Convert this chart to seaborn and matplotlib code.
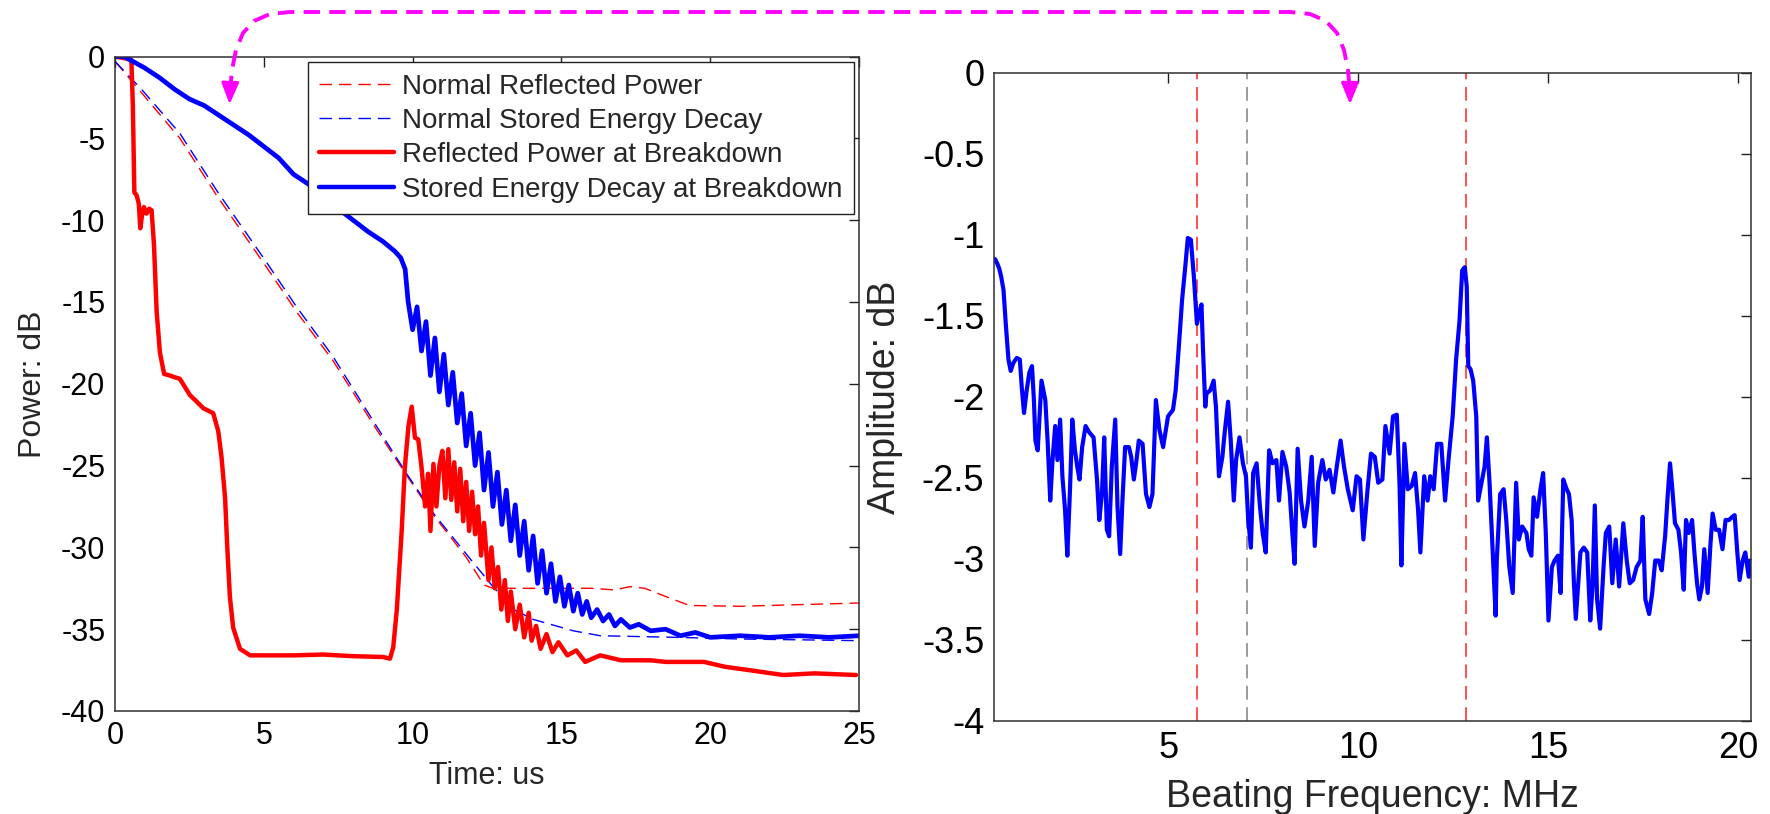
import numpy as np
import pandas as pd
import matplotlib
matplotlib.use("Agg")
import matplotlib.pyplot as plt
import seaborn as sns
from matplotlib.lines import Line2D
from matplotlib.patches import FancyArrowPatch

# ---------------- data: left panel (time in us, power in dB) ----------------
t_norm_refl = [0, 0.84, 2.18, 3.42, 5.1, 6.1, 7.33, 8.79, 9.8, 10.69, 11.8, 12.4, 12.7,
               14.0, 16.0, 16.8, 17.3, 17.8, 18.5, 19.3, 21.0, 23.0, 25.0]
p_norm_refl = [-0.3, -2.1, -5.0, -8.5, -12.9, -15.6, -18.6, -22.8, -25.6, -28.0, -30.6, -32.3, -32.5,
               -32.5, -32.5, -32.6, -32.4, -32.5, -33.0, -33.55, -33.6, -33.5, -33.4]

t_norm_stored = [0, 0.84, 2.18, 3.42, 5.1, 6.1, 7.33, 8.79, 9.8, 10.69, 11.8, 12.7, 13.4,
                 14.05, 15.4, 16.3, 18.9, 21.0, 25.0]
p_norm_stored = [-0.3, -1.9, -4.7, -8.2, -12.6, -15.3, -18.35, -22.6, -25.5, -27.9, -30.4, -32.4, -33.8,
                 -34.4, -35.1, -35.4, -35.5, -35.6, -35.7]

t_bd_refl = [0, 0.3, 0.55, 0.6, 0.65, 0.73, 0.8, 0.85, 0.9, 0.97, 1.06, 1.15, 1.23, 1.31, 1.4, 1.51,
             1.65, 1.85, 2.0, 2.18, 2.35, 2.52, 2.75, 2.97, 3.3, 3.47, 3.58, 3.7, 3.77, 3.86, 3.97,
             4.2, 4.54, 5.0, 6.0, 7.0, 8.0, 9.0, 9.24, 9.35, 9.47, 9.63, 9.74, 9.86, 9.97, 10.08,
             10.19, 10.3, 10.42, 10.52, 10.6, 10.7, 10.8, 10.9, 11.0, 11.1, 11.2, 11.3, 11.4, 11.5,
             11.6, 11.7, 11.8, 11.9, 12.0, 12.1, 12.2, 12.3, 12.4, 12.55, 12.65, 12.76, 12.87, 12.98,
             13.1, 13.2, 13.3, 13.45, 13.6, 13.75, 13.9, 14.0, 14.15, 14.3, 14.5, 14.7, 14.9, 15.2,
             15.5, 15.8, 16.3, 17.0, 18.0, 18.5, 19.8, 20.5, 21.3, 22.45, 23.5, 24.9]
p_bd_refl = [0, -0.1, -0.2, -3.0, -8.3, -8.5, -9.0, -10.5, -9.8, -9.2, -9.6, -9.3, -9.4, -11.5, -15.6, -18.1,
             -19.4, -19.5, -19.6, -19.7, -20.2, -20.7, -21.1, -21.5, -21.8, -22.9, -24.5, -27.0, -29.9, -33.0, -34.9,
             -36.2, -36.6, -36.6, -36.6, -36.55, -36.65, -36.7, -36.8, -36.1, -33.8, -29.1, -25.1, -22.6, -21.4, -23.3,
             -23.4, -25.1, -27.5, -25.5, -29.0, -24.9, -27.5, -25.0, -24.1, -27.0, -24.0, -27.1, -24.8, -27.8,
             -25.2, -28.4, -26.0, -29.0, -26.6, -29.2, -27.5, -30.5, -28.5, -32.0, -30.0, -32.5, -31.2, -33.8,
             -32.0, -34.5, -32.7, -35.0, -33.5, -35.5, -34.0, -35.7, -34.8, -36.2, -35.3, -36.4, -35.8, -36.6,
             -36.3, -37.0, -36.6, -36.9, -36.9, -37.0, -37.0, -37.3, -37.5, -37.8, -37.7, -37.8]

t_bd_stored = [0, 0.3, 0.5, 1.0, 1.5, 2.0, 2.5, 3.0, 3.5, 4.0, 4.5, 5.0, 5.5, 6.0, 6.5, 7.0, 7.5, 8.0,
               8.5, 9.0, 9.4, 9.6, 9.75, 9.85, 10.0, 10.15, 10.3, 10.45, 10.6, 10.75, 10.9, 11.05, 11.2,
               11.35, 11.5, 11.65, 11.8, 11.95, 12.1, 12.25, 12.4, 12.55, 12.7, 12.85, 13.0, 13.15, 13.3,
               13.45, 13.6, 13.75, 13.9, 14.05, 14.2, 14.35, 14.5, 14.65, 14.8, 14.95, 15.1, 15.25, 15.4,
               15.55, 15.7, 15.85, 16.0, 16.2, 16.4, 16.6, 16.8, 17.0, 17.3, 17.6, 18.0, 18.5, 19.0, 19.5,
               20.0, 21.0, 22.0, 23.0, 24.0, 25.0]
p_bd_stored = [0, 0, -0.2, -0.7, -1.3, -2.0, -2.6, -3.0, -3.6, -4.2, -4.8, -5.5, -6.2, -7.2, -7.8, -8.5, -9.3, -10.0,
               -10.7, -11.3, -11.9, -12.3, -13.0, -15.0, -16.7, -15.3, -18.0, -16.2, -19.5, -17.2, -20.5, -18.2, -21.3,
               -19.3, -22.4, -20.6, -23.8, -21.8, -25.0, -23.0, -26.5, -24.2, -27.5, -25.4, -28.6, -26.5, -29.6,
               -27.4, -30.5, -28.4, -31.4, -29.3, -32.2, -30.2, -32.8, -31.0, -33.3, -31.8, -33.6, -32.3, -33.9,
               -32.8, -34.1, -33.3, -34.3, -33.8, -34.5, -34.1, -34.8, -34.4, -34.9, -34.7, -35.1, -35.0, -35.4, -35.2,
               -35.5, -35.4, -35.5, -35.4, -35.5, -35.4]

series_labels = ["Normal Reflected Power", "Normal Stored Energy Decay",
                 "Reflected Power at Breakdown", "Stored Energy Decay at Breakdown"]

# ---------------- data: right panel (beating frequency spectrum) ----------------
freq_mhz = [0.44, 0.50, 0.55, 0.60, 0.66, 0.72, 0.79, 0.85, 0.92, 1.01, 1.09, 1.14, 1.20, 1.27, 1.34, 1.41,
            1.46, 1.50, 1.56, 1.66, 1.76, 1.82, 1.89, 1.95, 2.02, 2.08, 2.15, 2.21, 2.28, 2.34, 2.41, 2.47,
            2.54, 2.60, 2.66, 2.73, 2.82, 2.92, 3.03, 3.12, 3.18, 3.25, 3.31, 3.38, 3.44, 3.51, 3.60, 3.66,
            3.73, 3.79, 3.86, 3.96, 4.02, 4.09, 4.15, 4.22, 4.32, 4.41, 4.50, 4.58, 4.67, 4.76, 4.86, 4.99,
            5.12, 5.19, 5.28, 5.36, 5.45, 5.51, 5.59, 5.67, 5.75, 5.81, 5.87, 5.91, 5.97, 6.00, 6.10, 6.19,
            6.25, 6.33, 6.42, 6.48, 6.57, 6.64, 6.72, 6.78, 6.87, 6.96, 7.04, 7.10, 7.17, 7.23, 7.32, 7.41,
            7.48, 7.56, 7.65, 7.74, 7.84, 7.91, 8.00, 8.10, 8.19, 8.26, 8.32, 8.40, 8.49, 8.58, 8.68, 8.77,
            8.85, 8.94, 9.05, 9.14, 9.24, 9.34, 9.43, 9.53, 9.62, 9.72, 9.85, 9.95, 10.04, 10.13, 10.24,
            10.33, 10.43, 10.52, 10.63, 10.71, 10.82, 10.91, 11.01, 11.08, 11.13, 11.21, 11.30, 11.40,
            11.49, 11.57, 11.63, 11.73, 11.82, 11.89, 11.98, 12.07, 12.18, 12.28, 12.37, 12.48, 12.57,
            12.66, 12.73, 12.80, 12.85, 12.89, 12.95, 13.02, 13.10, 13.15, 13.24, 13.32, 13.38, 13.45,
            13.51, 13.58, 13.61, 13.64, 13.73, 13.82, 13.89, 13.97, 14.06, 14.15, 14.22, 14.31, 14.42,
            14.48, 14.55, 14.61, 14.70, 14.79, 14.86, 14.93, 15.00, 15.09, 15.16, 15.25, 15.32, 15.39,
            15.48, 15.54, 15.61, 15.67, 15.72, 15.84, 15.93, 16.02, 16.10, 16.16, 16.22, 16.28, 16.36,
            16.45, 16.51, 16.60, 16.68, 16.77, 16.86, 16.97, 17.06, 17.14, 17.23, 17.32, 17.42, 17.48,
            17.55, 17.65, 17.73, 17.81, 17.90, 17.98, 18.07, 18.14, 18.20, 18.26, 18.33, 18.42, 18.49,
            18.56, 18.62, 18.69, 18.78, 18.84, 18.91, 18.97, 19.04, 19.10, 19.19, 19.26, 19.32, 19.40,
            19.49, 19.58, 19.66, 19.75, 19.84, 19.90, 19.97, 20.03, 20.11, 20.18, 20.27, 20.32]
amp_db = [-1.15, -1.18, -1.21, -1.26, -1.34, -1.55, -1.77, -1.84, -1.79, -1.76, -1.77, -1.94, -2.10, -1.96, -1.85, -1.81,
          -2.02, -2.27, -2.33, -1.90, -2.02, -2.27, -2.64, -2.39, -2.18, -2.39, -2.14, -2.49, -2.70, -2.98, -2.57, -2.14,
          -2.33, -2.43, -2.51, -2.31, -2.18, -2.22, -2.25, -2.51, -2.76, -2.60, -2.25, -2.82, -2.86, -2.43, -2.14, -2.68,
          -2.97, -2.64, -2.31, -2.31, -2.37, -2.51, -2.41, -2.27, -2.29, -2.60, -2.68, -2.60, -2.02, -2.20, -2.31, -2.12,
          -2.08, -1.96, -1.67, -1.40, -1.18, -1.02, -1.03, -1.26, -1.55, -1.48, -1.43, -1.71, -2.06, -1.98, -1.96, -1.90,
          -2.06, -2.49, -2.37, -2.22, -2.03, -2.27, -2.64, -2.39, -2.25, -2.41, -2.49, -2.76, -2.93, -2.47, -2.41, -2.68,
          -2.84, -2.96, -2.33, -2.41, -2.39, -2.64, -2.34, -2.43, -2.59, -2.84, -3.03, -2.32, -2.64, -2.80, -2.64, -2.37,
          -2.92, -2.53, -2.39, -2.51, -2.45, -2.59, -2.43, -2.27, -2.43, -2.57, -2.70, -2.49, -2.51, -2.88, -2.57,
          -2.35, -2.37, -2.53, -2.51, -2.18, -2.35, -2.12, -2.11, -2.53, -3.04, -2.29, -2.57, -2.55,
          -2.47, -2.70, -2.96, -2.49, -2.64, -2.49, -2.57, -2.29, -2.29, -2.64, -2.39, -2.12, -1.77,
          -1.53, -1.22, -1.20, -1.32, -1.81, -1.83, -1.90, -2.12, -2.64, -2.53, -2.43, -2.25, -2.53,
          -2.84, -3.21, -3.35, -3.01, -2.60, -2.57, -2.76, -3.05, -3.21, -2.53, -2.88, -2.80, -2.84,
          -2.94, -2.98, -2.62, -2.74, -2.57, -2.47, -2.84, -3.38, -3.05, -3.01, -2.98, -3.21, -2.51,
          -2.57, -2.60, -2.76, -3.15, -3.37, -2.96, -2.93, -2.96, -3.38, -3.17, -2.67, -3.25, -3.43,
          -3.05, -2.84, -2.80, -3.15, -2.88, -3.17, -2.78, -3.01, -3.15, -3.13, -3.05, -3.01, -2.74,
          -3.25, -3.34, -3.21, -3.01, -3.01, -3.07, -2.86, -2.60, -2.41, -2.57, -2.78, -2.82, -2.96,
          -3.19, -2.76, -2.84, -2.76, -2.96, -3.15, -3.25, -3.17, -2.94, -3.21, -2.92, -2.72, -2.82,
          -2.82, -2.94, -2.76, -2.76, -2.74, -2.73, -2.96, -3.13, -3.01, -2.96, -3.11, -3.01]

marker_freqs = [5.75, 7.08, 12.82]
marker_colors = ["#FF2020", "#808080", "#FF2020"]

# ---------------- style ----------------
sns.set_style("white")
plt.rcParams["font.family"] = ["Liberation Sans", "DejaVu Sans"]
plt.rcParams["axes.unicode_minus"] = False

W, H = 1770, 814
fig = plt.figure(figsize=(W / 100, H / 100), dpi=100)
fig.patch.set_facecolor("white")

ax1 = fig.add_axes([115 / W, 1 - 711 / H, 744 / W, 654.5 / H])
ax2 = fig.add_axes([994 / W, 1 - 721 / H, 757 / W, 648.3 / H])

RED, BLUE = "#FF0000", "#0000FF"

# left panel lines
sns.lineplot(x=t_norm_refl, y=p_norm_refl, ax=ax1, color=RED, lw=1.0, ls="--",
             label=series_labels[0], estimator=None, sort=False)
ax1.lines[-1].set_dashes((9, 5))
sns.lineplot(x=t_norm_stored, y=p_norm_stored, ax=ax1, color=BLUE, lw=1.0, ls="--",
             label=series_labels[1], estimator=None, sort=False)
ax1.lines[-1].set_dashes((9, 5))
sns.lineplot(x=t_bd_refl, y=p_bd_refl, ax=ax1, color=RED, lw=3.2,
             label=series_labels[2], estimator=None, sort=False)
sns.lineplot(x=t_bd_stored, y=p_bd_stored, ax=ax1, color=BLUE, lw=3.4,
             label=series_labels[3], estimator=None, sort=False)

ax1.set_xlim(0, 25)
ax1.set_ylim(-40, 0)
ax1.set_xticks(np.arange(0, 26, 5))
ax1.set_yticks(np.arange(-40, 1, 5))
ax1.set_xlabel("Time: us", fontsize=22)
ax1.set_ylabel("Power: dB", fontsize=23)
ax1.xaxis.set_label_coords(0.5, -0.076)
ax1.yaxis.set_label_coords(-0.09, 0.5)

leg = ax1.legend(loc="upper right", bbox_to_anchor=(0.993, 0.991), borderaxespad=0,
                 fontsize=20, frameon=True, fancybox=False, framealpha=1,
                 edgecolor="#202020", handlelength=2.7, handletextpad=0.3,
                 labelspacing=0.3, borderpad=0.4)
leg.get_frame().set_linewidth(1.0)
for h in leg.get_lines()[2:]:
    h.set_linewidth(3.2)

# right panel
for f, c in zip(marker_freqs, marker_colors):
    ax2.axvline(f, color=c, lw=1.1, dashes=(9, 5), zorder=1)
sns.lineplot(x=freq_mhz, y=amp_db, ax=ax2, color=BLUE, lw=3.0, estimator=None, sort=False)
ax2.set_xlim(0.41, 20.33)
ax2.set_ylim(-4, 0)
ax2.set_xticks([5, 10, 15, 20])
ax2.set_yticks(np.arange(-4, 0.01, 0.5))
ax2.yaxis.set_major_formatter(matplotlib.ticker.FormatStrFormatter("%g"))
ax2.set_xlabel("Beating Frequency: MHz", fontsize=27)
ax2.set_ylabel("Amplitude: dB", fontsize=27)
ax2.xaxis.set_label_coords(0.5, -0.09)
ax2.yaxis.set_label_coords(-0.12, 0.5)

for ax, ls_ in ((ax1, 22), (ax2, 26)):
    ax.tick_params(direction="in", length=7, width=1.0, top=True, right=True,
                   labelsize=ls_, pad=7, colors="#202020", labelcolor="black")
    for sp in ax.spines.values():
        sp.set_visible(True)
        sp.set_color("#303030")
        sp.set_linewidth(1.1)
    ax.set_facecolor("white")

# ---------------- magenta connecting arrow (figure pixel coords) ----------------
MAG = "#FF00FF"
px = [230, 232, 236, 243, 254, 270, 290, 1290, 1310, 1326, 1337, 1344, 1348, 1350]
py = [92, 70, 50, 33, 21, 14, 12, 12, 14, 21, 33, 50, 70, 92]
fx = [x / W for x in px]
fy = [1 - y / H for y in py]
fig.add_artist(Line2D(fx, fy, transform=fig.transFigure, color=MAG, lw=2.8,
                      dashes=(4.2, 2.4), solid_capstyle="butt"))
for (x0, y0, x1, y1) in [(230, 90, 229.5, 107), (1350, 90, 1350, 107)]:
    fig.add_artist(FancyArrowPatch((x0 / W, 1 - y0 / H), (x1 / W, 1 - y1 / H),
                                   transform=fig.transFigure,
                                   arrowstyle="-|>,head_length=1.1,head_width=0.45",
                                   mutation_scale=12, color=MAG, lw=2.0))

fig.savefig("out.png", dpi=100, facecolor="white")
